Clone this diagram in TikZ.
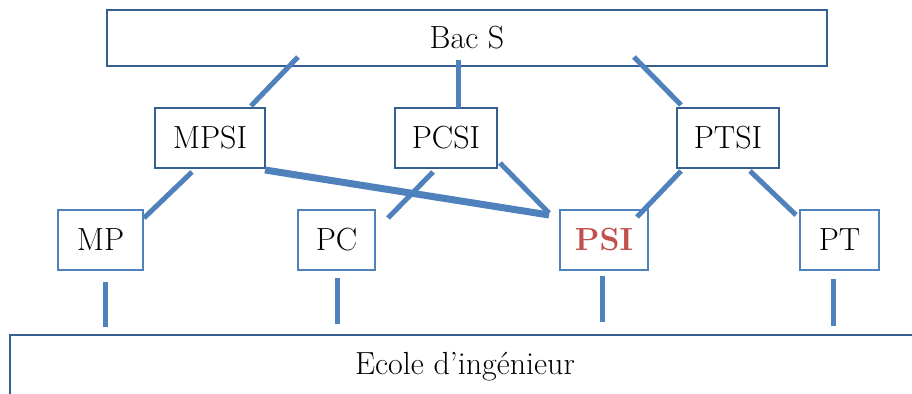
\documentclass[tikz,border=0pt]{standalone}
\definecolor{diagLineBlue}{RGB}{79,129,189}
\definecolor{diagDarkBlue}{RGB}{54,95,145}
\definecolor{diagRed}{RGB}{192,80,77}
\usepackage{tikz}
\usetikzlibrary{calc,positioning}
\tikzset{
	boxDark/.style={draw=diagDarkBlue,line width=1.2pt,fill=white,inner sep=0pt,outer sep=0pt,font=\fontsize{16}{19}\selectfont},
	boxLight/.style={draw=diagLineBlue,line width=1pt,fill=white,inner sep=0pt,outer sep=0pt,font=\fontsize{16}{19}\selectfont},
	link/.style={draw=diagLineBlue,line width=2.5pt},
}
\begin{document}
\begin{tikzpicture}[x=0.5pt,y=-0.5pt]
	\clip (0,0) rectangle (912,394);
	\fill[white] (0,0) rectangle (912,394);
	% top and bottom bars
	\node [boxDark,minimum width=360pt,minimum height=28pt] (bacS) at (467,38){Bac S};
	\node [boxDark,minimum width=455pt,minimum height=32pt] (ecole) at (465,367){Ecole d'ingénieur};
	% first year
	\node [boxDark,minimum width=55pt,minimum height=30pt] (mpsi) at (210,138){MPSI};
	\node [boxDark,minimum width=51pt,minimum height=30pt] (pcsi) at (446,138){PCSI};
	\node [boxDark,minimum width=51pt,minimum height=30pt] (ptsi) at (728,138){PTSI};
	% second year
	\node [boxLight,minimum width=42.5pt,minimum height=30pt] (mp) at (100.5,240){MP};
	\node [boxLight,minimum width=38.5pt,minimum height=30pt] (pc) at (336.5,240){PC};
	\node [boxLight,minimum width=44pt,minimum height=30pt,text=diagRed,font=\fontsize{16}{19}\selectfont\bfseries] (psi) at (604,240){PSI};
	\node [boxLight,minimum width=39.5pt,minimum height=30pt] (pt) at (839.5,240){PT};
	% links
	\draw [link] ($(bacS.south west)+(191,-9)$) -- ($(mpsi.north east)+(-14,-2)$);
	\draw [link] ($(bacS.south)+(-9,-6)$) -- ($(pcsi.north)+(12,0)$);
	\draw [link] ($(bacS.south)+(167,-9)$) -- ($(ptsi.north west)+(4,-3)$);
	\draw [link] ($(mpsi.south)+(-18,4)$) -- ($(mp.north east)+(1,8)$);
	\draw [link,line width=3.5pt] ($(mpsi.south east)+(0,2)$) -- ($(psi.north west)+(-11,5)$);
	\draw [link] ($(pcsi.south)+(-13,4)$) -- ($(pc.north east)+(13,8)$);
	\draw [link] ($(pcsi.south east)+(3,-5)$) -- ($(psi.north west)+(-11,3)$);
	\draw [link] ($(ptsi.south west)+(4,3)$) -- ($(psi.north east)+(-11,7)$);
	\draw [link] ($(ptsi.south)+(22,3)$) -- ($(pt.north west)+(-4,5)$);
	\draw [link] ($(mp.south)+(4.5,12)$) -- ($(ecole.north west)+(95,-8)$);
	\draw [link] ($(pc.south)+(0.5,8)$) -- ($(ecole.north west)+(327,-11)$);
	\draw [link] ($(psi.south)+(-2,6)$) -- ($(ecole.north west)+(592,-13)$);
	\draw [link] ($(pt.south)+(-6.5,9)$) -- ($(ecole.north west)+(823,-9)$);
\end{tikzpicture}
\end{document}
